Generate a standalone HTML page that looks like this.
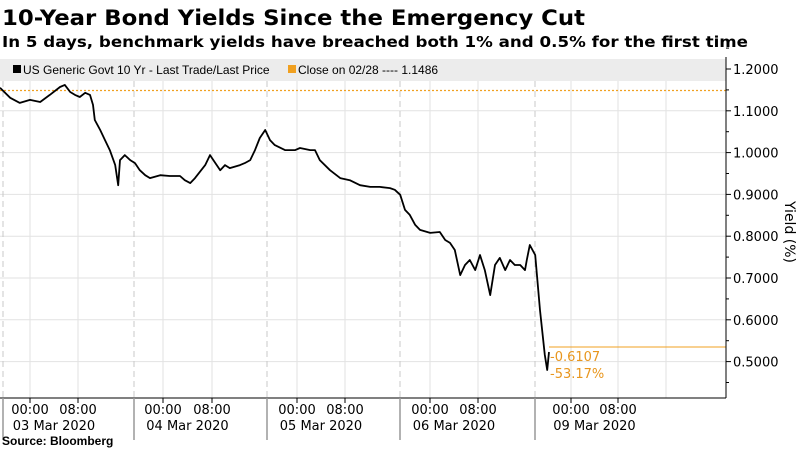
<!DOCTYPE html>
<html><head><meta charset="utf-8"><style>
body{margin:0;background:#fff;}
svg{display:block;font-family:"DejaVu Sans","Liberation Sans",sans-serif;}
</style></head><body>
<svg id="chart" width="800" height="450" viewBox="0 0 800 450">
<text x="2" y="25" font-size="21" font-weight="bold" textLength="583" lengthAdjust="spacingAndGlyphs">10-Year Bond Yields Since the Emergency Cut</text>
<text x="2" y="47" font-size="15" font-weight="bold" textLength="746" lengthAdjust="spacingAndGlyphs">In 5 days, benchmark yields have breached both 1% and 0.5% for the first time</text>
<g id="grid"></g>
<rect x="0" y="59" width="726" height="22" fill="#ececec"/>
<g font-family="Liberation Sans, sans-serif" font-size="12">
<rect x="13" y="65" width="8" height="8" fill="#000"/>
<text x="23" y="74">US Generic Govt 10 Yr - Last Trade/Last Price</text>
<rect x="288" y="65" width="8" height="8" fill="#f0a020"/>
<text x="298" y="74">Close on 02/28 ---- 1.1486</text>
</g>
<g id="marks"></g>
<g id="yaxis" font-size="13"></g>
<text transform="translate(785,232) rotate(90)" font-size="14" text-anchor="middle">Yield (%)</text>
<g id="xaxis" font-size="13"></g>
<text x="2" y="445" font-size="12" font-weight="bold" font-family="Liberation Sans, sans-serif">Source: Bloomberg</text>
</svg>
<script>
const hoursElapsed=[0,1.7,3.3,5,6.7,8.3,10,10.8,11.7,12.5,13.3,14.2,15,15.5,15.8,16.7,17.5,18.3,19.2,19.7,20,20.8,21.7,22.5,23.3,24.2,25,26.7,28.3,30,30.8,31.7,32.5,34.2,35,35.8,36.7,37.5,38.3,40,40.8,41.7,42.5,43.3,44.2,45,45.8,47.5,49.2,50,51.7,52.5,53.3,55,56.7,58.3,60,61.7,63.3,65,65.8,66.7,67.5,68.3,69.2,70,71.7,73.3,74.2,75,75.8,76.7,77.5,78.3,79.2,80,80.8,81.7,82.5,83.3,84.2,85,85.8,86.7,87.5,87.8,88.3,89.2,90,90.8,91.2,91.5];
const yieldValues=[1.155,1.131,1.119,1.126,1.121,1.138,1.157,1.162,1.145,1.138,1.133,1.143,1.138,1.114,1.078,1.054,1.030,1.006,0.970,0.922,0.982,0.994,0.982,0.975,0.958,0.946,0.939,0.946,0.944,0.944,0.934,0.927,0.939,0.970,0.994,0.977,0.958,0.970,0.963,0.970,0.975,0.982,1.006,1.035,1.054,1.030,1.018,1.006,1.006,1.011,1.006,1.006,0.982,0.958,0.939,0.934,0.922,0.918,0.918,0.915,0.911,0.899,0.863,0.851,0.827,0.815,0.808,0.810,0.791,0.784,0.767,0.707,0.731,0.743,0.719,0.755,0.719,0.659,0.731,0.748,0.719,0.743,0.731,0.731,0.719,0.743,0.779,0.755,0.623,0.516,0.480,0.523];
const priorClose=1.1486;
const lastValue=0.535;
const yTicks=[1.2,1.1,1.0,0.9,0.8,0.7,0.6,0.5];
const yTickLabels=["1.2000","1.1000","1.0000","0.9000","0.8000","0.7000","0.6000","0.5000"];
const lastLabels=["-0.6107","-53.17%"];
const dayLabels=["03 Mar 2020","04 Mar 2020","05 Mar 2020","06 Mar 2020","09 Mar 2020"];
const NS="http://www.w3.org/2000/svg";
const y=v=>69+(1.2-v)*418;
const x=t=>t*6;
function mk(tag,attrs,parent,txt){const e=document.createElementNS(NS,tag);for(const k in attrs)e.setAttribute(k,attrs[k]);if(txt!==undefined)e.textContent=txt;parent.appendChild(e);return e;}
const grid=document.getElementById('grid'),marks=document.getElementById('marks'),ya=document.getElementById('yaxis'),xa=document.getElementById('xaxis');
// horizontal grid
yTicks.forEach(v=>{const l=mk('line',{x1:0,x2:726,y1:y(v),y2:y(v),stroke:'#e2e2e2','stroke-width':1},grid);

});
// vertical grid
const vg=[30,78,163,212,297,345,430,478,571,618,666];
vg.forEach(p=>{const l=mk('line',{x1:p,x2:p,y1:81,y2:398,stroke:'#e2e2e2'},grid);

});
[3,134,267,400,535].forEach(p=>{const l=mk('line',{x1:p,x2:p,y1:81,y2:398,stroke:'#c8c8c8','stroke-dasharray':'6,4'},grid);

});
// prior close line
const pc=mk('line',{x1:0,x2:726,y1:y(priorClose),y2:y(priorClose),stroke:'#f0a020','stroke-dasharray':'2,2','stroke-width':1.2},marks);


// series
let d='';hoursElapsed.forEach((t,i)=>{d+=(i?'L':'M')+x(t).toFixed(1)+','+y(yieldValues[i]).toFixed(1);});
const p=mk('path',{d:d,fill:'none',stroke:'#000','stroke-width':1.8,'stroke-linejoin':'round'},marks);


const lx=x(hoursElapsed[hoursElapsed.length-1]);
const ll=mk('line',{x1:lx,x2:726,y1:y(lastValue),y2:y(lastValue),stroke:'#f0a020','stroke-width':1},marks);


lastLabels.forEach((s,i)=>{const t=mk('text',{x:lx+1,y:y(lastValue)+14+i*17,fill:'#e8961e','font-size':13},marks,s);

});
// y axis
mk('line',{x1:726,x2:726,y1:57,y2:398,stroke:'#000'},ya);
for(let v=1.25;v>=0.449;v-=0.05){const big=Math.abs(v*10-Math.round(v*10))<0.01;
const tk=mk('line',{x1:726,x2:726+(big?5:3),y1:y(v),y2:y(v),stroke:'#000'},ya);

}
yTicks.forEach((v,i)=>{const t=mk('text',{x:733,y:y(v)+5},ya,yTickLabels[i]);

});
// x axis
mk('line',{x1:0,x2:726,y1:398,y2:398,stroke:'#000'},xa);
const dayStarts=[3,134,267,400,535];
dayStarts.forEach((p,i)=>{const s=mk('line',{x1:p,x2:p,y1:398,y2:440,stroke:'#999','stroke-width':1.5},xa);


const a=vg[i*2+(i==4?0:0)]||0;});
const hourTicks=[[30,78],[163,212],[297,345],[430,478],[571,618]];
hourTicks.forEach((pr,i)=>{pr.forEach((p,j)=>{const tk=mk('line',{x1:p,x2:p,y1:398,y2:403,stroke:'#000'},xa);


const t=mk('text',{x:p,y:414,'text-anchor':'middle'},xa,j?'08:00':'00:00');

});
const dl=mk('text',{x:(pr[0]+pr[1])/2,y:430,'text-anchor':'middle'},xa,dayLabels[i]);

});
</script>
</body></html>
